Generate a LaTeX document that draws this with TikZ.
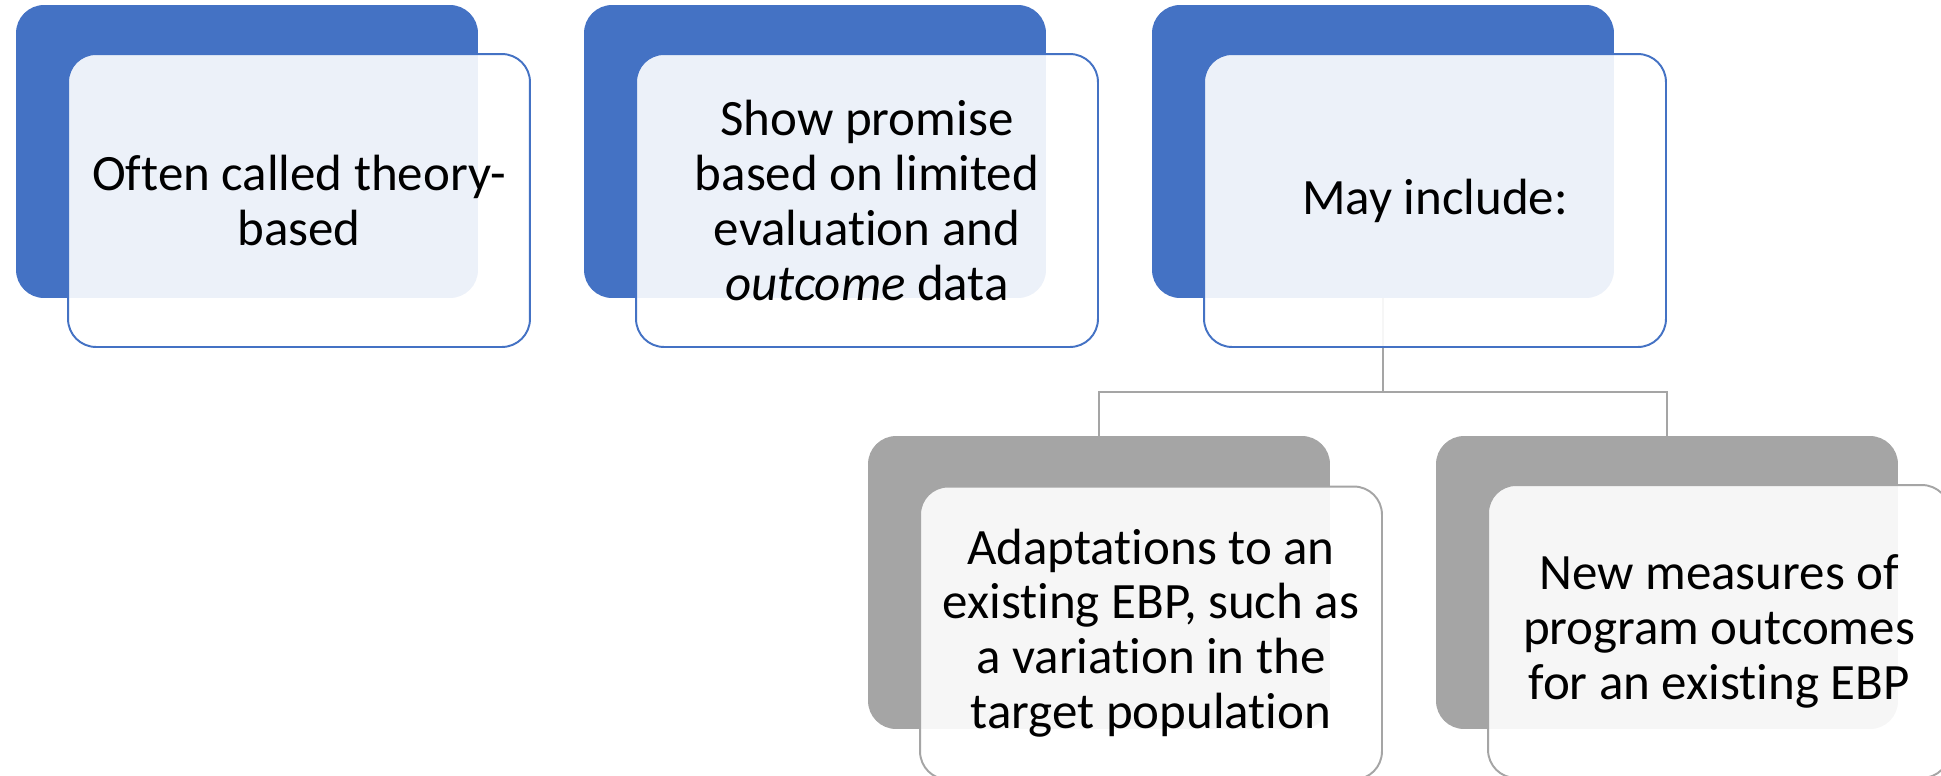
\documentclass[tikz,border=0pt]{standalone}
\usepackage{fontspec}
\setmainfont[Ligatures=NoCommon]{Carlito}
\usepackage{tikz}
\pgfdeclarelayer{backlayer}
\pgfdeclarelayer{edgelayer}
\pgfdeclarelayer{nodelayer}
\pgfsetlayers{backlayer,edgelayer,nodelayer,main}
\definecolor{tabblue}{HTML}{4472C4}
\definecolor{tabgrey}{HTML}{A5A5A5}
\tikzstyle{none}=[inner sep=0pt]
\tikzstyle{tab}=[rectangle, rounded corners=0.56cm, minimum width=9.24cm, minimum height=5.86cm, inner sep=0pt, outer sep=0pt]
\tikzstyle{bluetab}=[tab, fill=tabblue]
\tikzstyle{greytab}=[tab, fill=tabgrey]
\tikzstyle{card}=[tab, fill=white, fill opacity=0.9, text opacity=1, line width=1.1pt, align=center, font=\fontsize{29}{31.2}\selectfont]
\tikzstyle{bluecard}=[card, draw=tabblue]
\tikzstyle{greycard}=[card, draw=tabgrey]
\tikzstyle{link}=[draw=tabgrey, line width=1.4pt]

\begin{document}
\begin{tikzpicture}[x=0.02cm, y=-0.02cm]
	\useasboundingbox (0, 0) rectangle (1941, 775);
	\clip (0, 0) rectangle (1941, 775);
	\begin{pgfonlayer}{backlayer}
		\node [style=bluetab] (0) at (247, 151.5) {};
		\node [style=bluetab] (1) at (815, 151.5) {};
		\node [style=bluetab] (2) at (1383, 151.5) {};
		\node [style=greytab] (3) at (1099, 582.5) {};
		\node [style=greytab] (4) at (1667, 582.5) {};
	\end{pgfonlayer}
	\begin{pgfonlayer}{nodelayer}
		\node [style=bluecard] (5) at (299, 200.5) {Often called theory-\\based};
		\node [style=bluecard] (6) at (867, 200.5) {Show promise\\based on limited\\evaluation and\\\textit{outcome} data};
		\node [style=bluecard] (7) at (1435, 200.5) {May include:};
		\node [style=greycard] (8) at (1151, 633) {Adaptations to an\\existing EBP, such as\\a variation in the\\target population};
		\node [style=greycard] (9) at (1719, 631.5) {New measures of\\program outcomes\\for an existing EBP};
	\end{pgfonlayer}
	\begin{pgfonlayer}{edgelayer}
		\coordinate (10) at (1383, 392);
		\draw [style=link] (2.south) -- (10);
		\draw [style=link] (10) -| (3.north);
		\draw [style=link] (10) -| (4.north);
	\end{pgfonlayer}
\end{tikzpicture}
\end{document}
